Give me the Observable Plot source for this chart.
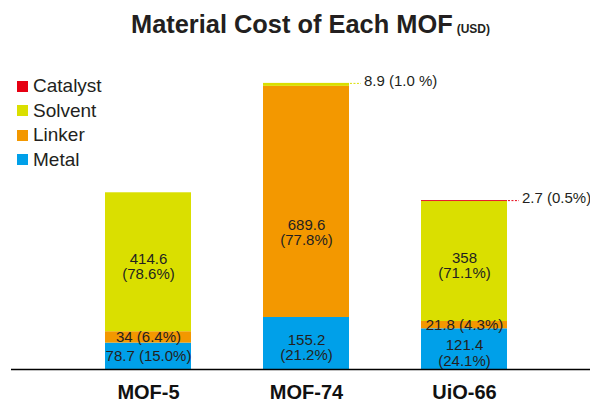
<!DOCTYPE html>
<html>
<head>
<meta charset="utf-8">
<script src="https://cdn.jsdelivr.net/npm/d3@7"></script>
<script src="https://cdn.jsdelivr.net/npm/@observablehq/plot@0.6"></script>
<style>
  html, body { margin: 0; padding: 0; background: #fff; }
  #wrap { position: relative; width: 590px; height: 403px; font-family: "Liberation Sans", Arial, sans-serif; color: #231f20; }
  #title { position: absolute; left: 131px; top: 12px; font-size: 25.4px; font-weight: bold; line-height: 25px; white-space: nowrap; }
  #title small { font-size: 12px; font-weight: bold; margin-left: 4px; }
  #legend { position: absolute; left: 17px; top: 74px; font-size: 19px; line-height: 24.5px; }
  #legend div { display: flex; align-items: center; }
  #legend span.sw { display: inline-block; width: 11px; height: 11px; margin-right: 5px; }
  #chart { position: absolute; left: 0; top: 0; }
</style>
</head>
<body>
<div id="wrap">
  <div id="chart"></div>
  <div id="title"></div>
  <div id="legend"></div>
</div>
<script>
// ---- data ----
const titleText = "Material Cost of Each MOF";
const unitText = "(USD)";
const mofs = ["MOF-5", "MOF-74", "UiO-66"];
const components = ["Metal", "Linker", "Solvent", "Catalyst"];   // bottom to top
const legendOrder = ["Catalyst", "Solvent", "Linker", "Metal"];
const colors = ["#00a0e9", "#f39800", "#dadf00", "#e60012"];      // Metal, Linker, Solvent, Catalyst

const metal    = [78.7, 155.2, 121.4];
const linker   = [34, 689.6, 21.8];
const solvent  = [414.6, 8.9, 358];
const catalyst = [0, 0, 2.7];

const metalPct    = ["15.0%", "21.2%", "24.1%"];
const linkerPct   = ["6.4%", "77.8%", "4.3%"];
const solventPct  = ["78.6%", "1.0 %", "71.1%"];
const catalystPct = ["", "", "0.5%"];

// ---- build table ----
const seriesVals = {Metal: metal, Linker: linker, Solvent: solvent, Catalyst: catalyst};
const seriesPct = {Metal: metalPct, Linker: linkerPct, Solvent: solventPct, Catalyst: catalystPct};
const rows = [];
mofs.forEach((m, i) => {
  components.forEach(c => {
    const v = seriesVals[c][i];
    if (v > 0) rows.push({mof: m, comp: c, value: v, pct: seriesPct[c][i]});
  });
});
const totals = new Map(mofs.map(m => [m, d3.sum(rows.filter(r => r.mof === m), r => r.value)]));

// scales
const W = 590, H = 403, mTop = 60, mBottom = 34;
const yMax = 922;
const pxPerUnit = (H - mTop - mBottom) / yMax;
const xRange = [60, 553], padIn = 0.453, padOut = 0.277;
const band = d3.scaleBand().domain(mofs).range(xRange).paddingInner(padIn).paddingOuter(padOut);
const bw = band.bandwidth();

const segPx = r => r.value * pxPerUnit;
const group = r => segPx(r) < 5 ? "outside" : segPx(r) <= 30 ? "small" : segPx(r) < 200 ? "big" : "huge";
rows.forEach(r => {
  r.group = group(r);
  r.label = r.group === "big" || r.group === "huge" ? `${r.value}\n(${r.pct})` : `${r.value} (${r.pct})`;
});
const labelOf = g => d => d.group === g ? d.label : null;
const outside = rows.filter(r => r.group === "outside").map(r => ({...r, total: totals.get(r.mof)}));

const order = components;
const stackText = (g, extra) => Plot.text(rows, Plot.stackY({
  x: "mof", y: "value", z: "comp", order, text: labelOf(g),
  fontSize: 15, lineHeight: 1.02, fill: "#231f20", ...extra
}));

const chart = Plot.plot({
  width: W,
  height: H,
  marginTop: mTop,
  marginBottom: mBottom,
  marginLeft: 11,
  marginRight: 0,
  style: {fontFamily: '"Liberation Sans", Arial, sans-serif', color: "#231f20", background: "transparent"},
  x: {type: "band", domain: mofs, range: xRange, paddingInner: padIn, paddingOuter: padOut, axis: null},
  y: {domain: [0, yMax], axis: null},
  color: {domain: components, range: colors},
  marks: [
    Plot.barY(rows, Plot.stackY({x: "mof", y: "value", z: "comp", order, fill: "comp"})),
    stackText("small", {}),
    stackText("big", {dy: 4}),
    stackText("huge", {dy: 31}),
    Plot.tickY(outside, {x: "mof", y: "total", stroke: "comp", strokeWidth: 1, strokeDasharray: "2,1.5", insetLeft: bw, insetRight: -12}),
    Plot.text(outside, {x: "mof", y: "total", text: "label", textAnchor: "start", dx: bw / 2 + 14, dy: -2, fontSize: 15, fill: "#231f20"}),
    Plot.ruleY([0], {stroke: "#000", strokeWidth: 1.5}),
    Plot.axisX({tickSize: 0, tickPadding: 15, fontSize: 20, fontWeight: "bold", label: null, fill: "#111"})
  ]
});
document.getElementById("chart").appendChild(chart);

// title
const t = document.getElementById("title");
t.append(titleText);
const s = document.createElement("small");
s.textContent = unitText;
t.appendChild(s);

// legend
const lg = document.getElementById("legend");
legendOrder.forEach(c => {
  const row = document.createElement("div");
  const sw = document.createElement("span");
  sw.className = "sw";
  sw.style.background = colors[components.indexOf(c)];
  row.appendChild(sw);
  row.append(c);
  lg.appendChild(row);
});
</script>
</body>
</html>
